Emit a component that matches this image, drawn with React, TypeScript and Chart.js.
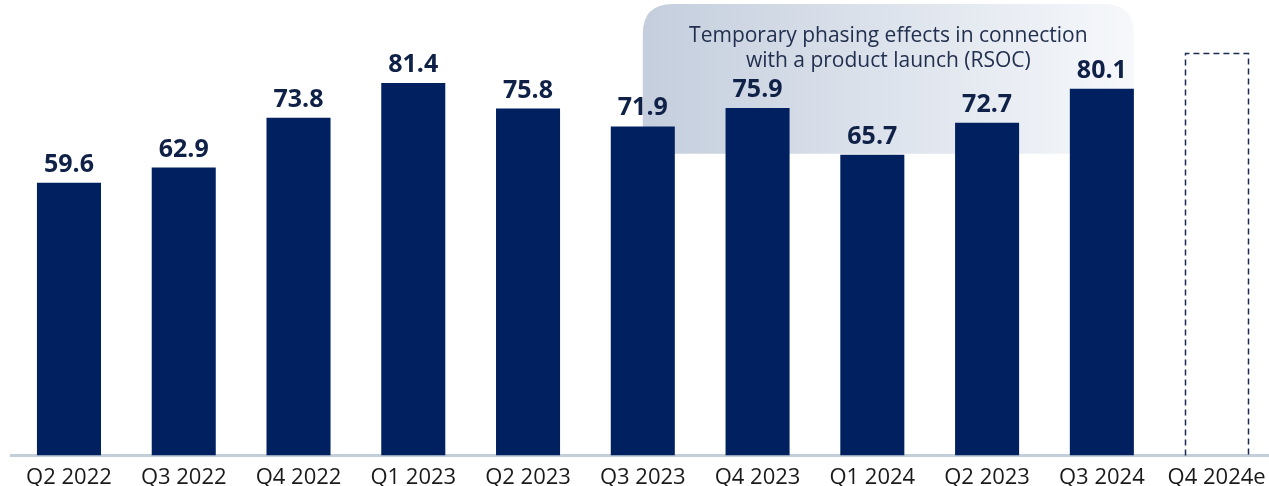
import React, { useEffect, useRef } from "react";
import { Chart, registerables } from "chart.js";

Chart.register(...registerables);

const categories = [
  "Q2 2022", "Q3 2022", "Q4 2022", "Q1 2023", "Q2 2023", "Q3 2023",
  "Q4 2023", "Q1 2024", "Q2 2023", "Q3 2024", "Q4 2024e",
];
const actualValues = [59.6, 62.9, 73.8, 81.4, 75.8, 71.9, 75.9, 65.7, 72.7, 80.1, null];
const estimateValues = [null, null, null, null, null, null, null, null, null, null, 88];
const annotationLines = [
  "Temporary phasing effects in connection",
  "with a product launch (RSOC)",
];
// annotation extent in data terms
const annotationFromIndex = 5;
const annotationToIndex = 9;
const annotationBottomValue = 65.9;
const yMax = 99.5;

const FONT = '"Open Sans", "Noto Sans", sans-serif';
const BAR_COLOR = "#002060";
const LABEL_COLOR = "#0f2147";

const annotationPlugin = {
  id: "annotationBox",
  beforeDatasetsDraw(chart: any) {
    const { ctx, scales, chartArea } = chart;
    const x = scales.x;
    const y = scales.y;
    const meta = chart.getDatasetMeta(0);
    const endBar = meta.data[annotationToIndex];
    const left = x.getPixelForValue(annotationFromIndex);
    const right = endBar.x + endBar.width / 2;
    const top = chartArea.top + 4;
    const bottom = y.getPixelForValue(annotationBottomValue);
    const r = 30;
    ctx.save();
    const g = ctx.createLinearGradient(left, 0, right, 0);
    g.addColorStop(0, "#c4cedd");
    g.addColorStop(1, "#f6f8fb");
    ctx.fillStyle = g;
    ctx.beginPath();
    ctx.moveTo(left, bottom);
    ctx.lineTo(left, top + r);
    ctx.quadraticCurveTo(left, top, left + r, top);
    ctx.lineTo(right - r, top);
    ctx.quadraticCurveTo(right, top, right, top + r);
    ctx.lineTo(right, bottom);
    ctx.closePath();
    ctx.fill();
    ctx.fillStyle = "#22304f";
    ctx.font = `21px ${FONT}`;
    ctx.textAlign = "center";
    ctx.textBaseline = "alphabetic";
    const cx = (left + right) / 2;
    annotationLines.forEach((line, i) => {
      ctx.fillText(line, cx, top + 38 + i * 25);
    });
    ctx.restore();
  },
  afterDatasetsDraw(chart: any) {
    const { ctx } = chart;
    ctx.save();
    // value labels for actual bars
    const meta0 = chart.getDatasetMeta(0);
    ctx.font = `bold 25px ${FONT}`;
    ctx.fillStyle = LABEL_COLOR;
    ctx.textAlign = "center";
    ctx.textBaseline = "alphabetic";
    meta0.data.forEach((el: any, i: number) => {
      const v = actualValues[i];
      if (v == null) return;
      ctx.fillText(v.toFixed(1), el.x, el.y - 11);
    });
    // dashed outline for estimate bar
    const meta1 = chart.getDatasetMeta(1);
    ctx.strokeStyle = "#1b2b52";
    ctx.lineWidth = 1.5;
    ctx.setLineDash([6, 4]);
    meta1.data.forEach((el: any, i: number) => {
      const v = estimateValues[i];
      if (v == null) return;
      const l = Math.round(el.x - el.width / 2) + 0.5;
      const rr = Math.round(el.x + el.width / 2) - 0.5;
      const t = Math.round(el.y) + 0.5;
      const b = el.base;
      ctx.beginPath();
      ctx.moveTo(l, b);
      ctx.lineTo(l, t);
      ctx.lineTo(rr, t);
      ctx.lineTo(rr, b);
      ctx.stroke();
    });
    ctx.restore();
  },
};

export default function App() {
  const canvasRef = useRef<HTMLCanvasElement | null>(null);

  useEffect(() => {
    let chart: Chart | null = null;
    let cancelled = false;
    const build = () => {
      if (cancelled || !canvasRef.current) return;
      chart = new Chart(canvasRef.current, {
        type: "bar",
        data: {
          labels: categories,
          datasets: [
            {
              data: actualValues as any,
              backgroundColor: BAR_COLOR,
              barPercentage: 0.558,
              categoryPercentage: 1,
              grouped: false,
            },
            {
              data: estimateValues as any,
              backgroundColor: "rgba(0,0,0,0)",
              barPercentage: 0.558,
              categoryPercentage: 1,
              grouped: false,
            },
          ],
        },
        options: {
          animation: false,
          responsive: true,
          maintainAspectRatio: false,
          layout: { padding: { left: 11.6, right: 0, top: 0, bottom: 0 } },
          plugins: { legend: { display: false }, tooltip: { enabled: false } },
          scales: {
            x: {
              grid: { display: false },
              border: { display: true, color: "#c3cedb", width: 3 },
              ticks: {
                color: "#1a1a1a",
                font: { family: FONT, size: 22 },
                padding: 0.5,
                maxRotation: 0,
                autoSkip: false,
              },
            },
            y: { display: false, min: 0, max: yMax },
          },
        },
        plugins: [annotationPlugin],
      });
    };
    const fontsReady = (document as any).fonts
      ? Promise.all([
          (document as any).fonts.load(`22px "Open Sans"`),
          (document as any).fonts.load(`bold 25px "Open Sans"`),
          (document as any).fonts.load(`21px "Open Sans"`),
        ]).catch(() => null)
      : Promise.resolve(null);
    fontsReady.then(build);
    return () => {
      cancelled = true;
      if (chart) chart.destroy();
    };
  }, []);

  return (
    <div style={{ position: "fixed", left: 0, top: 0, width: 1269, height: 486, overflow: "hidden", background: "#fff" }}>
      <div style={{ position: "relative", width: 1274, height: 491 }}>
        <canvas ref={canvasRef} />
      </div>
    </div>
  );
}
